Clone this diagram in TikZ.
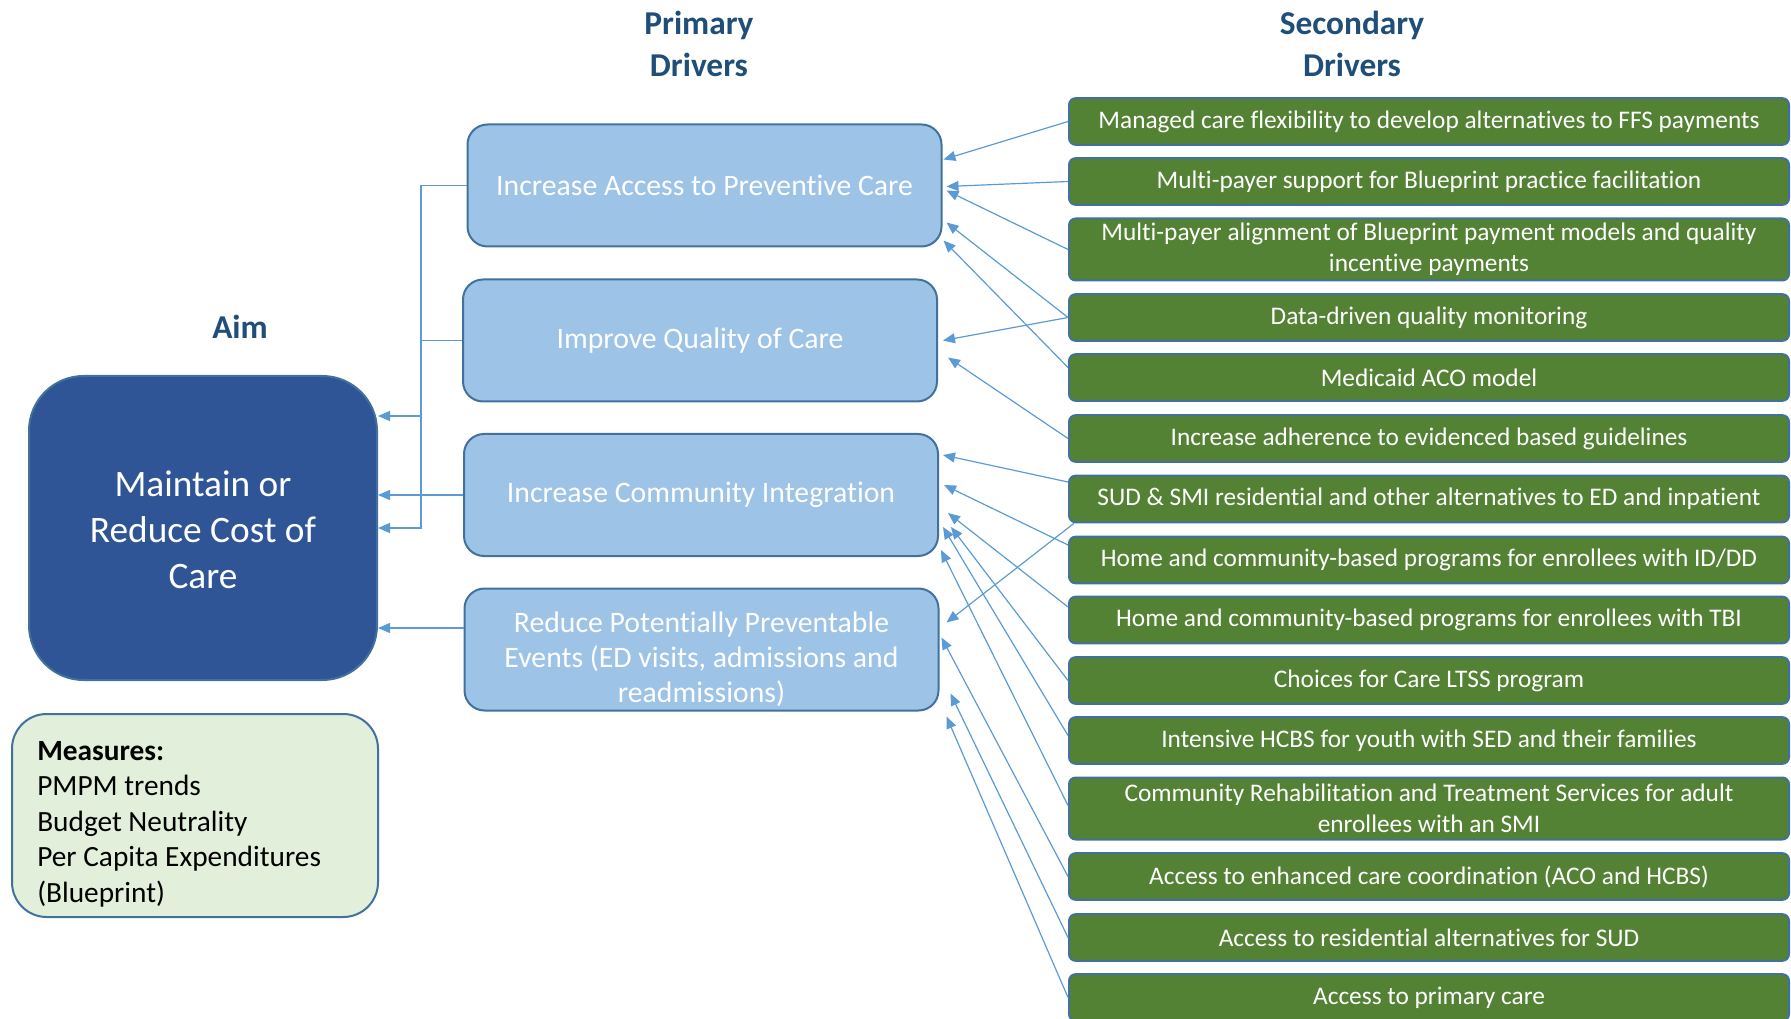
\documentclass[tikz,border=0pt]{standalone}
\usepackage{fontspec}
\setmainfont{Carlito}[Ligatures={NoCommon}]
\usetikzlibrary{arrows.meta,calc}
\definecolor{hdr}{HTML}{1F4E79}
\definecolor{aimfill}{HTML}{2F5597}
\definecolor{bord}{HTML}{41719C}
\definecolor{prifill}{HTML}{9DC3E6}
\definecolor{secfill}{HTML}{548235}
\definecolor{measfill}{HTML}{E2EFDA}
\definecolor{connc}{HTML}{5B9BD5}
\begin{document}
\begin{tikzpicture}[x=0.75pt,y=-0.75pt,
  heading/.style={font=\fontsize{25}{31}\selectfont\bfseries, text=hdr, align=center},
  pribox/.style={draw=bord, line width=1.5pt, fill=prifill, rounded corners=15pt, minimum width=355.5pt, minimum height=91.5pt, inner sep=0pt},
  pritext/.style={text=white, font=\fontsize{22.3}{26.25}\selectfont, align=center},
  secbox/.style={draw=bord, line width=1.5pt, fill=secfill, rounded corners=5pt, minimum width=540pt, minimum height=35pt, inner sep=0pt, text=white, font=\fontsize{19}{23}\selectfont, align=center},
  secbig/.style={secbox, minimum height=46.5pt},
  link/.style={draw=connc, line width=0.9pt, -{Triangle[length=9pt,width=7.5pt]}},
]
\useasboundingbox (0,0) rectangle (1791,1019);

% headings
\node[heading] (hprim) at (699,44) {Primary\\Drivers};
\node[heading] (hsec) at (1352,44) {Secondary\\Drivers};
\node[heading] (haim) at (240,327) {Aim};

% aim
\node[draw=bord, line width=1.5pt, fill=aimfill, rounded corners=41pt, minimum width=261pt, minimum height=228pt, inner sep=0pt] (aim) at (203,528) {};
\node[text=white, font=\fontsize{28}{34.5}\selectfont, align=center] (aimt) at ($(aim.center)+(0,2)$) {Maintain or\\Reduce Cost of\\Care};

% measures
\node[draw=bord, line width=1.5pt, fill=measfill, rounded corners=26pt, minimum width=274.5pt, minimum height=152.25pt, inner sep=0pt] (meas) at (195,815.5) {};
\node[anchor=west, align=left, font=\fontsize{22}{26.6}\selectfont, inner sep=0pt] (meast) at (37,824)
  {\textbf{Measures:}\\PMPM trends\\Budget Neutrality\\Per Capita Expenditures\\(Blueprint)};

% primary drivers
\node[pribox, pritext] (p1) at (704.5,185.5) {Increase Access to Preventive Care};
\node[pribox, pritext] (p2) at (700,340.5) {Improve Quality of Care};
\node[pribox, pritext] (p3) at (701,495) {Increase Community Integration};
\node[pribox] (p4) at (701.5,649.5) {};
\node[pritext] (p4t) at ($(p4.center)+(0,10)$) {Reduce Potentially Preventable\\Events (ED visits, admissions and\\readmissions)};

% secondary drivers
\node[secbox] (s1) at (1429,121.5) {Managed care flexibility to develop alternatives to FFS payments};
\node[secbox] (s2) at (1429,181.5) {Multi-payer support for Blueprint practice facilitation};
\node[secbig] (s3) at (1429,249.5) {Multi-payer alignment of Blueprint payment models and quality\\incentive payments};
\node[secbox] (s4) at (1429,317.5) {Data-driven quality monitoring};
\node[secbox] (s5) at (1429,377.5) {Medicaid ACO model};
\node[secbox] (s6) at (1429,438.5) {Increase adherence to evidenced based guidelines};
\node[secbox] (s7) at (1429,499) {SUD \& SMI residential and other alternatives to ED and inpatient};
\node[secbox] (s8) at (1429,560) {Home and community-based programs for enrollees with ID/DD};
\node[secbox] (s9) at (1429,620) {Home and community-based programs for enrollees with TBI};
\node[secbox] (s10) at (1429,680.5) {Choices for Care LTSS program};
\node[secbox] (s11) at (1429,740.5) {Intensive HCBS for youth with SED and their families};
\node[secbig] (s12) at (1429,808.5) {Community Rehabilitation and Treatment Services for adult\\enrollees with an SMI};
\node[secbox] (s13) at (1429,876.5) {Access to enhanced care coordination (ACO and HCBS)};
\node[secbox] (s14) at (1429,937.5) {Access to residential alternatives for SUD};
\node[secbox] (s15) at (1429,997.5) {Access to primary care};

% left connectors to aim
\coordinate (bus) at (421,0);
\draw[link] (p1.west) -- (p1.west -| bus) |- ($(aim.east)+(0,-112)$);
\draw[link] (p2.west) -- (p2.west -| bus) |- (aim.east);
\draw[link] (p3.west) -- (aim.east |- p3.west);
\draw[link] ($(p4.west)+(0,-21.5)$) -- ($(aim.east |- p4.west)+(0,-21.5)$);

% right connectors
\draw[link] (s1.west) -- ($(p1.east)+(1,-26)$);
\draw[link] (s2.west) -- ($(p1.east)+(4,1)$);
\draw[link] (s3.west) -- ($(p1.east)+(4,5)$);
\draw[link] (s4.west) -- ($(p1.east)+(4,37)$);
\draw[link] ($(s5.west)+(0,-10)$) -- ($(p1.east)+(1,55)$);
\draw[link] (s4.west) -- ($(p2.east)+(5,0)$);
\draw[link] (s6.west) -- ($(p2.east)+(10,17)$);
\draw[link] ($(s7.west)+(0,-17)$) -- ($(p3.east)+(4,-40)$);
\draw[link] ($(s7.south west)+(6,0)$) -- ($(p4.east)+(7,-27)$);
\draw[link] ($(s8.west)+(0,-15)$) -- ($(p3.east)+(5,-10)$);
\draw[link] ($(s9.west)+(0,-13)$) -- ($(p3.east)+(9,18)$);
\draw[link] (s10.west) -- ($(p3.east)+(12,32)$);
\draw[link] ($(s11.west)+(0,-5)$) -- ($(p3.east)+(4,32)$);
\draw[link] ($(s12.west)+(0,-3)$) -- ($(p3.east)+(2,55)$);
\draw[link] (s13.west) -- ($(p4.east)+(2,-12)$);
\draw[link] (s14.west) -- ($(p4.east)+(11,44)$);
\draw[link] (s15.west) -- ($(p4.east)+(7,67)$);
\end{tikzpicture}
\end{document}
